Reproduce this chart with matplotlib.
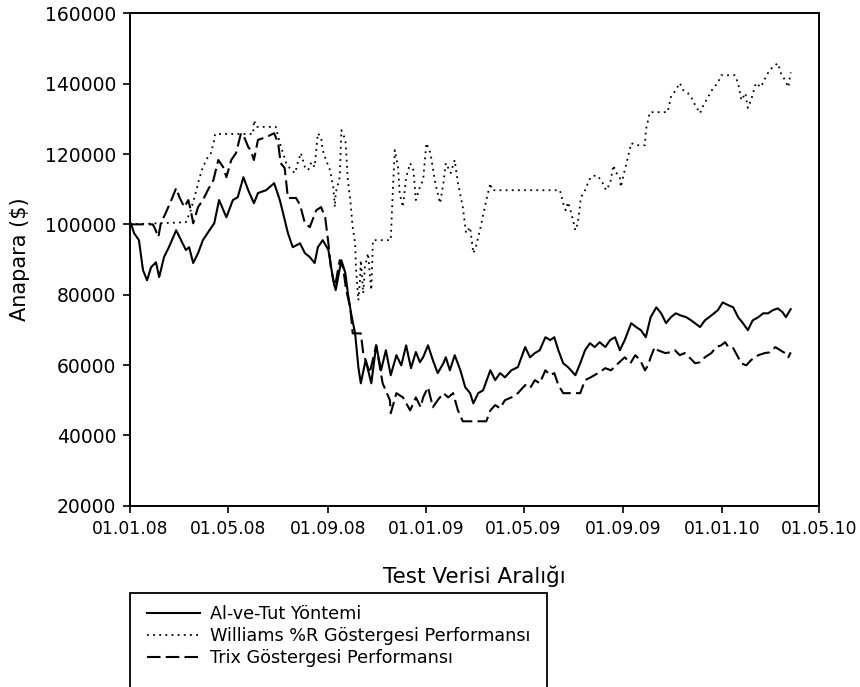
import matplotlib
matplotlib.use('Agg')
import matplotlib.pyplot as plt
import matplotlib.dates as mdates
from matplotlib.lines import Line2D
from matplotlib.patches import Rectangle
import pandas as pd

plt.rcParams['font.family'] = ['DejaVu Sans']

START = pd.Timestamp('2008-01-01')

# Al-ve-Tut (buy and hold): days since 01.01.08, portfolio value in $
hold_days = [0, 1, 5, 11, 16, 21, 26, 32, 36, 42, 48, 57, 63, 69, 73, 78, 84, 90, 98, 104,
             110, 119, 127, 133, 140, 146, 153, 158, 168, 178, 185, 189, 195, 201, 210, 216,
             222, 228, 232, 238, 245, 251, 254, 261, 266, 269, 273, 278, 282, 285, 291, 298,
             304, 310, 316, 322, 329, 335, 341, 347, 353, 358, 362, 368, 374, 380, 387, 390,
             395, 401, 408, 414, 420, 424, 430, 436, 445, 451, 457, 463, 471, 479, 488, 494,
             500, 506, 513, 519, 524, 529, 535, 541, 550, 556, 562, 568, 574, 580, 587, 593,
             599, 605, 611, 619, 625, 631, 637, 643, 650, 656, 662, 668, 674, 680, 687, 693,
             704, 710, 718, 726, 732, 739, 745, 751, 757, 763, 769, 776, 782, 788, 794, 800,
             806, 810, 816]
hold_vals = [100000, 100300, 97500, 95500, 87000, 84100, 87800, 89200, 85000, 90700, 93500,
             98300, 95500, 92700, 93500, 89000, 91800, 95500, 98300, 100300, 106900, 102000,
             106900, 107700, 113400, 109700, 106000, 108900, 109700, 111700, 106900, 103200,
             97500, 93500, 94600, 91800, 90700, 89000, 93500, 95500, 92700, 84100, 81300,
             89800, 86100, 80400, 74700, 69000, 59400, 54800, 61400, 54800, 65600, 58500,
             64200, 57100, 62800, 59900, 65600, 59100, 63700, 60800, 62200, 65600, 61400,
             57700, 60500, 62200, 58500, 62800, 58500, 53700, 52000, 49100, 52000, 52800,
             58500, 55700, 57700, 56500, 58500, 59400, 65100, 62200, 63400, 64200, 67900,
             67100, 67900, 64200, 60500, 59400, 57100, 60500, 64200, 66200, 65100, 66500,
             65100, 67100, 67900, 64200, 67100, 71900, 70800, 69900, 67900, 73600, 76400,
             74700, 71900, 73600, 74700, 74100, 73600, 72700, 70800, 72700, 74100, 75600,
             77800, 77000, 76400, 73600, 71900, 69900, 72700, 73600, 74700, 74700, 75600,
             76100, 75000, 73600, 75900]

# Williams %R strategy
will_days = [0, 69, 75, 82, 85, 90, 96, 100, 104, 105, 152, 153, 156, 180, 185, 189, 193,
             199, 204, 207, 211, 216, 220, 224, 228, 232, 236, 238, 242, 247, 251, 253, 254,
             259, 261, 266, 269, 272, 275, 278, 279, 282, 284, 285, 288, 290, 294, 296, 298,
             300, 322, 325, 327, 331, 333, 337, 341, 346, 350, 353, 358, 362, 366, 371, 377,
             383, 387, 390, 396, 401, 405, 411, 415, 420, 424, 427, 433, 440, 445, 447, 531,
             535, 538, 541, 545, 550, 553, 557, 562, 566, 569, 576, 582, 588, 593, 597, 600,
             605, 606, 611, 615, 619, 625, 636, 637, 642, 664, 668, 674, 679, 683, 689, 693,
             698, 704, 707, 714, 720, 726, 730, 747, 751, 755, 760, 763, 767, 773, 779, 785,
             790, 797, 800, 804, 809, 813, 816]
will_vals = [100000, 100600, 104000, 109700, 112600, 116300, 119100, 120300, 124000, 125700,
             125700, 129600, 127700, 127700, 123100, 120300, 117400, 115400, 114600, 117400,
             120300, 116300, 115400, 117700, 116300, 125900, 124800, 121100, 118300, 115400,
             110600, 104900, 108900, 113400, 126800, 124000, 112600, 106900, 99200, 94600,
             87800, 78400, 84100, 89800, 80400, 87800, 91800, 86100, 81300, 95500, 95500,
             111700, 121100, 116300, 108900, 104900, 113400, 117400, 115400, 106900, 110600,
             112600, 123100, 120300, 111700, 106000, 111700, 117400, 114600, 118300, 111700,
             104900, 97500, 99200, 91800, 93500, 99200, 106900, 111700, 109700, 109700,
             106000, 104000, 106300, 103200, 98300, 100300, 107700, 109700, 112000, 113400,
             114000, 112600, 109700, 111700, 116800, 114800, 113400, 110600, 115400, 119100,
             123100, 122500, 122500, 126800, 131900, 131900, 136200, 138200, 140200, 138200,
             137300, 136200, 133900, 131600, 133300, 136200, 138700, 140200, 142400, 142400,
             140200, 135300, 137300, 133100, 135300, 140200, 139000, 141800, 143900, 145300,
             145800, 142900, 141000, 139000, 143200]

# Trix strategy
trix_days = [0, 28, 30, 35, 38, 44, 51, 57, 61, 67, 72, 75, 78, 84, 90, 96, 103, 109, 115,
             119, 125, 131, 137, 141, 146, 149, 153, 158, 168, 178, 183, 186, 191, 195, 205,
             210, 216, 222, 230, 236, 241, 245, 248, 253, 259, 263, 267, 272, 275, 285, 288,
             296, 304, 312, 321, 322, 329, 337, 346, 353, 359, 362, 368, 374, 380, 387, 393,
             399, 405, 411, 440, 445, 451, 457, 463, 471, 479, 488, 494, 500, 506, 513, 519,
             524, 529, 535, 556, 562, 569, 578, 587, 594, 603, 611, 618, 624, 630, 636, 640,
             643, 648, 652, 661, 667, 673, 679, 685, 692, 698, 704, 710, 718, 724, 730, 735,
             739, 745, 751, 755, 761, 767, 776, 784, 790, 797, 803, 809, 813, 816]
trix_vals = [100000, 100000, 99200, 96400, 100300, 103200, 106900, 110300, 107700, 104900,
             106900, 104000, 100300, 104900, 106900, 109700, 112600, 118300, 116300, 113400,
             118300, 120300, 125900, 124800, 122000, 121100, 118300, 124000, 124800, 125900,
             123100, 117400, 116000, 107500, 107500, 105500, 100300, 99200, 104000, 104900,
             102000, 94600, 87800, 82100, 89800, 87800, 81300, 76400, 69000, 69000, 63400,
             57700, 65600, 54800, 50000, 46300, 52000, 50800, 47100, 50800, 48000, 50800,
             53700, 48000, 50000, 52000, 50800, 52000, 47100, 44000, 44000, 47100, 48600,
             47700, 50000, 50800, 52000, 54300, 53400, 55700, 54800, 58500, 57100, 57700,
             54300, 52000, 52000, 55700, 56500, 57700, 59100, 58500, 60500, 62200, 60500,
             62800, 61400, 58500, 60000, 62200, 65100, 64200, 63400, 63600, 64200, 62800,
             63400, 61900, 60500, 60800, 62200, 63400, 65100, 65600, 66500, 65100, 64800,
             62200, 60500, 59900, 61400, 62800, 63400, 63600, 65100, 64200, 63400, 62200,
             63600]

labels = ['Al-ve-Tut Yöntemi', 'Williams %R Göstergesi Performansı', 'Trix Göstergesi Performansı']
tick_dates = ['2008-01-01', '2008-05-01', '2008-09-01', '2009-01-01',
              '2009-05-01', '2009-09-01', '2010-01-01', '2010-05-01']


def to_dates(days):
    return START + pd.to_timedelta(days, unit='D')


solid = dict(color='black', linewidth=1.5, linestyle='-')
dotted = dict(color='black', linewidth=1.3, linestyle=(0, (1, 2.4)))
dashed = dict(color='black', linewidth=1.5, linestyle=(0, (6.5, 2.5)))

fig = plt.figure(figsize=(8.6, 6.87), dpi=100)
ax = fig.add_axes([0.1512, 0.2639, 0.8012, 0.7167])

ax.plot(to_dates(hold_days), hold_vals, **solid)
ax.plot(to_dates(will_days), will_vals, **dotted)
ax.plot(to_dates(trix_days), trix_vals, **dashed)

ax.set_xlim(pd.Timestamp('2008-01-01'), pd.Timestamp('2010-05-01'))
ax.set_ylim(20000, 160000)
ax.set_yticks(range(20000, 160001, 20000))
ax.set_xticks(pd.to_datetime(tick_dates))
ax.xaxis.set_major_formatter(mdates.DateFormatter('%d.%m.%y'))

for sp in ax.spines.values():
    sp.set_linewidth(1.4)
ax.tick_params(direction='out', length=5, width=1.2)
ax.tick_params(axis='x', labelsize=12.3, pad=5)
ax.tick_params(axis='y', labelsize=13.5, pad=5)

ax.set_ylabel('Anapara ($)', fontsize=15)
ax.yaxis.set_label_coords(-0.145, 0.5)
ax.set_xlabel('Test Verisi Aralığı', fontsize=15.5)
ax.xaxis.set_label_coords(0.5, -0.122)

# legend below the plot, boxed with a frame that runs off the bottom edge
handles = [Line2D([], [], **solid), Line2D([], [], **dotted), Line2D([], [], **dashed)]
fig.legend(handles, labels, loc='upper left', bbox_to_anchor=(147 / 860, 1 - 605 / 687),
           frameon=False, fontsize=12.7, handlelength=3.0, handletextpad=0.55,
           labelspacing=0.24, borderpad=0, borderaxespad=0)
fig.patches.append(Rectangle((130 / 860, -0.1), (547 - 130) / 860, 0.1 + 1 - 593 / 687,
                             transform=fig.transFigure, fill=False, linewidth=1.3,
                             edgecolor='black'))

fig.savefig('out.png', dpi=100)
